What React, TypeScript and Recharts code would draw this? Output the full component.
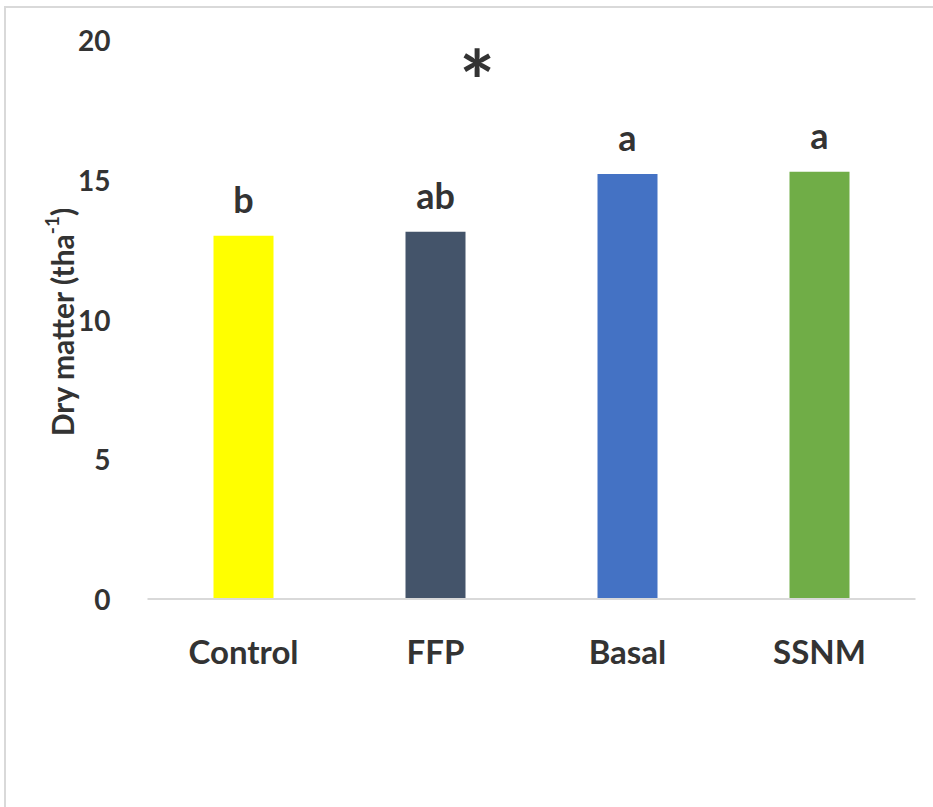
import React from 'react';
import { BarChart, Bar, XAxis, YAxis, Cell, LabelList, Customized } from 'recharts';

// Dry matter yield per treatment (t ha-1)
const treatments = ['Control', 'FFP', 'Basal', 'SSNM'];
const dryMatter = [13.0, 13.14, 15.21, 15.29];
const groupLetters = ['b', 'ab', 'a', 'a'];
const barColors = ['#FFFF00', '#44546A', '#4472C4', '#70AD47'];
const yTicks = [0, 5, 10, 15, 20];

const data = treatments.map((name, i) => ({
  name,
  value: dryMatter[i],
  letter: groupLetters[i],
}));

const FONT = 'Lato, "Open Sans", sans-serif';
const TEXT = '#333333';

const YTick = (props: any) => {
  const { x, y, payload } = props;
  return (
    <text
      x={x - 29}
      y={y}
      textAnchor="end"
      dominantBaseline="central"
      fontFamily={FONT}
      fontWeight={700}
      fontSize={28}
      fill={TEXT}
    >
      {payload.value}
    </text>
  );
};

const XTick = (props: any) => {
  const { x, y, payload } = props;
  return (
    <text
      x={x}
      y={y + 44}
      textAnchor="middle"
      dominantBaseline="central"
      fontFamily={FONT}
      fontWeight={700}
      fontSize={33}
      fill={TEXT}
    >
      {payload.value}
    </text>
  );
};

const YLabel = () => {
  const cx = 62;
  const cy = 322;
  return (
    <text
      x={cx}
      y={cy}
      transform={`rotate(-90 ${cx} ${cy})`}
      textAnchor="middle"
      dominantBaseline="central"
      fontFamily={FONT}
      fontWeight={700}
      fontSize={30}
      fill={TEXT}
    >
      Dry matter (tha
      <tspan fontSize={19} dy={-11}>-1</tspan>
      <tspan dy={11}>)</tspan>
    </text>
  );
};

const Star = () => (
  <text
    x={477}
    y={62}
    textAnchor="middle"
    dominantBaseline="central"
    fontFamily={FONT}
    fontWeight={700}
    fontSize={84}
    fill={TEXT}
    dy={17}
  >
    *
  </text>
);

export default function App() {
  return (
    <div
      style={{
        position: 'absolute',
        left: 0,
        top: 0,
        width: 933,
        height: 807,
        background: '#fff',
      }}
    >
      <div
        style={{
          position: 'absolute',
          left: 4,
          top: 6,
          width: 940,
          height: 820,
          borderLeft: '2px solid #d9d9d9',
          borderTop: '2px solid #d9d9d9',
        }}
      />
      <BarChart
        width={933}
        height={807}
        data={data}
        margin={{ top: 40, right: 17.5, bottom: 207, left: 0 }}
        style={{ position: 'absolute', left: 0, top: 0 }}
      >
        <XAxis
          dataKey="name"
          axisLine={{ stroke: '#d9d9d9', strokeWidth: 2 }}
          tickLine={false}
          tick={<XTick />}
          height={1}
          interval={0}
        />
        <YAxis
          width={147.5}
          domain={[0, 20]}
          ticks={yTicks}
          axisLine={false}
          tickLine={false}
          tick={<YTick />}
          label={<YLabel />}
        />
        <Bar dataKey="value" barSize={60} isAnimationActive={false}>
          {data.map((d, i) => (
            <Cell key={d.name} fill={barColors[i]} />
          ))}
          <LabelList
            dataKey="letter"
            position="top"
            offset={23}
            fontFamily={FONT}
            fontWeight={700}
            fontSize={36}
            fill={TEXT}
          />
        </Bar>
        <Customized component={Star} />
      </BarChart>
    </div>
  );
}
